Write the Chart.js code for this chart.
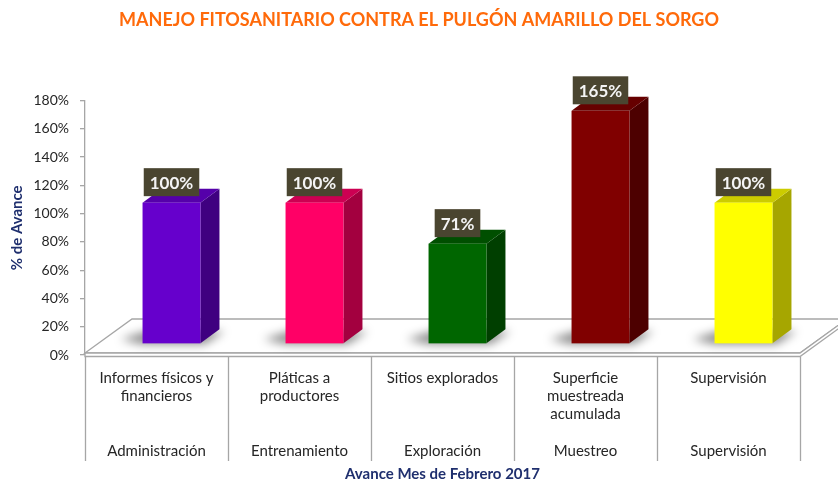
<!DOCTYPE html>
<html>
<head>
<meta charset="utf-8">
<script src="https://cdn.jsdelivr.net/npm/chart.js@4.4.1/dist/chart.umd.min.js"></script>
<style>
  html, body { margin: 0; padding: 0; background: #fff; }
</style>
</head>
<body>
<canvas id="avanceChart" width="838" height="483"></canvas>
<script>
// Activities (first label level) and their groups (second level)
const activities = [
    ['Informes físicos y', 'financieros'],
    ['Pláticas a', 'productores'],
    ['Sitios explorados'],
    ['Superficie', 'muestreada', 'acumulada'],
    ['Supervisión']
];
const groups = ['Administración', 'Entrenamiento', 'Exploración', 'Muestreo', 'Supervisión'];
const avance = [1.00, 1.00, 0.71, 1.65, 1.00];
const yTicks = [0, 0.2, 0.4, 0.6, 0.8, 1.0, 1.2, 1.4, 1.6, 1.8];

const frontColors = ['#6600CC', '#FF0066', '#006600', '#800000', '#FFFF00'];
const sideColors = ['#3F0080', '#A3003F', '#003F00', '#4D0000', '#A6A600'];
const topColors = ['#5500AA', '#CC0052', '#004F00', '#660000', '#CCCC00'];

const navy = '#1F2F6E';
const gray = '#A6A6A6';

// 5 text lines per category: up to 3 activity lines, a gap, then the group
const labels = activities.map((lines, i) => {
    const l = lines.slice();
    while (l.length < 4) l.push('');
    l.push(groups[i]);
    return l;
});

// oblique 3D look: bars sit a bit behind the floor front edge
const depth3d = {
    id: 'depth3d',
    beforeDatasetsDraw(chart) {
        const ctx = chart.ctx;
        const xs = chart.scales.x, ys = chart.scales.y;
        const zero = ys.getPixelForValue(0);
        const fdx = 47, fdy = -34;
        const top = zero - 2, bot = zero + 1.5;
        ctx.save();
        ctx.lineWidth = 1.3;
        ctx.strokeStyle = gray;
        ctx.fillStyle = '#FFFFFF';
        // floor top
        ctx.beginPath();
        ctx.moveTo(xs.left, top);
        ctx.lineTo(xs.left + fdx, top + fdy);
        ctx.lineTo(xs.right + fdx, top + fdy);
        ctx.lineTo(xs.right, top);
        ctx.closePath();
        ctx.fill();
        ctx.stroke();
        // floor thickness
        ctx.beginPath();
        ctx.moveTo(xs.left, top);
        ctx.lineTo(xs.right, top);
        ctx.lineTo(xs.right + fdx, top + fdy);
        ctx.lineTo(xs.right + fdx, bot + fdy);
        ctx.lineTo(xs.right, bot);
        ctx.lineTo(xs.left, bot);
        ctx.closePath();
        ctx.fill();
        ctx.stroke();

        // soft shadows on the floor
        const meta = chart.getDatasetMeta(0);
        meta.data.forEach((el) => {
            const w = el.width;
            const x1 = el.x - w / 2 + 15, x2 = x1 + w;
            const yb = el.base - 11;
            ctx.save();
            ctx.filter = 'blur(5px)';
            ctx.fillStyle = 'rgba(0,0,0,0.45)';
            ctx.beginPath();
            ctx.moveTo(x1 - 22, yb - 4);
            ctx.lineTo(x1, yb + 1);
            ctx.lineTo(x2 + 4, yb + 1);
            ctx.lineTo(x2 + 24, yb - 12);
            ctx.lineTo(x1 + 4, yb - 12);
            ctx.closePath();
            ctx.fill();
            ctx.restore();
        });
        ctx.restore();
    },
    afterDatasetsDraw(chart) {
        const ctx = chart.ctx;
        const meta = chart.getDatasetMeta(0);
        const ox = 15, oy = -11, dx = 19, dy = -14;
        ctx.save();
        meta.data.forEach((el, i) => {
            const w = el.width;
            const x1 = el.x - w / 2 + ox, x2 = x1 + w;
            const yt = el.y + oy, yb = el.base + oy;
            // side
            ctx.fillStyle = sideColors[i];
            ctx.beginPath();
            ctx.moveTo(x2, yt);
            ctx.lineTo(x2 + dx, yt + dy);
            ctx.lineTo(x2 + dx, yb + dy);
            ctx.lineTo(x2, yb);
            ctx.closePath();
            ctx.fill();
            // top
            ctx.fillStyle = topColors[i];
            ctx.beginPath();
            ctx.moveTo(x1, yt);
            ctx.lineTo(x1 + dx, yt + dy);
            ctx.lineTo(x2 + dx, yt + dy);
            ctx.lineTo(x2, yt);
            ctx.closePath();
            ctx.fill();
            // front
            ctx.fillStyle = frontColors[i];
            ctx.fillRect(x1, yt, w, yb - yt);

            // value box
            const txt = Math.round(avance[i] * 100) + '%';
            ctx.font = 'bold 17px Lato';
            const tw = ctx.measureText(txt).width;
            const bw = tw + 12, bh = 28;
            const cx = x1 + w / 2;
            const by = yt - 6.5 - bh;
            ctx.fillStyle = '#4A4530';
            ctx.fillRect(cx - bw / 2, by, bw, bh);
            ctx.fillStyle = '#F4F4F4';
            ctx.textAlign = 'center';
            ctx.textBaseline = 'middle';
            ctx.fillText(txt, cx, by + bh / 2 + 1);
        });
        ctx.restore();
    },
    afterDraw(chart) {
        // category separators through both label levels
        const ctx = chart.ctx;
        const xs = chart.scales.x, ys = chart.scales.y;
        const zero = ys.getPixelForValue(0);
        const n = labels.length;
        ctx.save();
        ctx.strokeStyle = gray;
        ctx.lineWidth = 1.3;
        ctx.beginPath();
        for (let i = 0; i <= n; i++) {
            const x = Math.round(xs.left + i * (xs.right - xs.left) / n) + 0.5;
            ctx.moveTo(x, zero + 1.5);
            ctx.lineTo(x, 461);
        }
        ctx.stroke();
        ctx.restore();
    }
};

const chart = new Chart(document.getElementById('avanceChart'), {
    type: 'bar',
    data: {
        labels: labels,
        datasets: [{
            label: '% de Avance',
            data: avance,
            backgroundColor: 'rgba(0,0,0,0)',
            categoryPercentage: 0.45,
            barPercentage: 0.9
        }]
    },
    options: {
        responsive: false,
        animation: false,
        layout: { padding: 0 },
        plugins: {
            legend: { display: false },
            tooltip: { enabled: false },
            title: {
                display: true,
                text: 'MANEJO FITOSANITARIO CONTRA EL PULGÓN AMARILLO DEL SORGO',
                color: '#FF6A0A',
                font: { family: 'Lato', size: 18, weight: 'bold', lineHeight: 1.2 },
                padding: { top: 9, bottom: 70 }
            }
        },
        scales: {
            x: {
                grid: { display: false, drawTicks: false },
                border: { display: false },
                ticks: {
                    color: '#262626',
                    font: { family: 'Lato', size: 15, lineHeight: 1.217 },
                    padding: 14,
                    maxRotation: 0,
                    autoSkip: false
                },
                title: {
                    display: true,
                    text: 'Avance Mes de Febrero 2017',
                    color: navy,
                    font: { family: 'Lato', size: 15, weight: 'bold' },
                    padding: { top: 0, bottom: 0 }
                },
                afterFit(scale) { scale.height = 128; }
            },
            y: {
                min: 0,
                max: 1.8,
                afterBuildTicks(scale) { scale.ticks = yTicks.map(v => ({ value: v })); },
                ticks: {
                    callback: v => Math.round(v * 100) + '%',
                    color: '#262626',
                    font: { family: 'Lato', size: 14 },
                    padding: 11
                },
                grid: { drawOnChartArea: false, tickLength: 5, color: gray, lineWidth: 1.3 },
                border: { color: gray, width: 1.3 },
                title: {
                    display: true,
                    text: '% de Avance',
                    color: navy,
                    font: { family: 'Lato', size: 15, weight: 'bold' },
                    padding: { top: 8, bottom: 0 }
                },
                afterFit(scale) { scale.width = 85; }
            },
            // empty right-hand strip so the title centres on the full width
            yRight: {
                position: 'right',
                display: true,
                grid: { display: false },
                border: { display: false },
                ticks: { display: false },
                afterFit(scale) { scale.width = 38; }
            }
        }
    },
    plugins: [depth3d]
});
</script>
</body>
</html>
